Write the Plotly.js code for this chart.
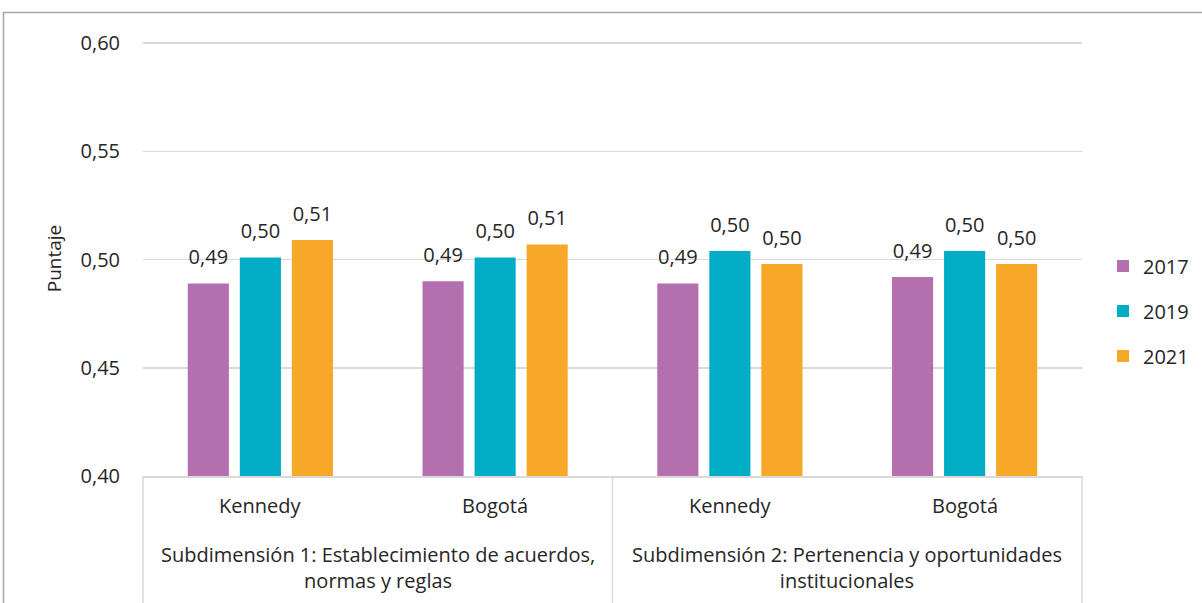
<!DOCTYPE html>
<html>
<head>
<meta charset="utf-8">
<script src="https://cdn.plot.ly/plotly-3.0.1.min.js"></script>
<style>html,body{margin:0;padding:0;background:#fff;}#chart{width:1202px;height:603px;}</style>
</head>
<body>
<div id="chart"></div>
<script>
var groups = [
  "Subdimensión 1: Establecimiento de acuerdos,<br>normas y reglas",
  "Subdimensión 1: Establecimiento de acuerdos,<br>normas y reglas",
  "Subdimensión 2: Pertenencia y oportunidades<br>institucionales",
  "Subdimensión 2: Pertenencia y oportunidades<br>institucionales"
];
var places = ["Kennedy", "Bogotá", "Kennedy", "Bogotá"];
var years = ["2017", "2019", "2021"];
var v2017 = [0.489, 0.490, 0.489, 0.492];
var v2019 = [0.501, 0.501, 0.504, 0.504];
var v2021 = [0.509, 0.507, 0.498, 0.498];
var colors = ["#B46FAF", "#00ADC4", "#F7A828"];
var yTicks = [0.40, 0.45, 0.50, 0.55, 0.60];

var series = [v2017, v2019, v2021];
var FONT = "'Open Sans', 'Noto Sans', sans-serif";
var TXT = "#262626";
var GRID = "#d9d9d9";
var traces = [];
series.forEach(function (vals, i) {
  traces.push({
    type: "bar",
    name: years[i],
    x: [groups, places],
    y: vals,
    offsetgroup: String(i),
    legendgroup: years[i],
    marker: { color: colors[i] },
    hoverinfo: "skip"
  });
});
series.forEach(function (vals, i) {
  traces.push({
    type: "scatter",
    mode: "text+markers",
    x: [groups, places],
    y: vals,
    offsetgroup: String(i),
    showlegend: false,
    marker: { size: 21, color: "rgba(0,0,0,0)" },
    text: vals.map(function (v) { return v.toFixed(2).replace(".", ","); }),
    textposition: "top center",
    textfont: { family: FONT, size: 20, color: TXT },
    cliponaxis: false,
    hoverinfo: "skip"
  });
});

// category labels and dividers (paper coordinates derived from category index)
var n = places.length;
var annotations = [];
var shapes = [];
var PLOT_H = 435;
function py(pix) { return -pix / PLOT_H; } // pixels below the x-axis line
places.forEach(function (p, i) {
  annotations.push({
    xref: "paper", yref: "paper", x: (i + 0.5) / n, y: py(30),
    text: p, showarrow: false, xanchor: "center", yanchor: "middle",
    font: { family: FONT, size: 20, color: TXT }
  });
});
var seen = [];
groups.forEach(function (g, i) {
  if (seen.indexOf(g) !== -1) return;
  seen.push(g);
  var first = groups.indexOf(g), last = groups.lastIndexOf(g);
  annotations.push({
    xref: "paper", yref: "paper", x: (first + last + 1) / 2 / n, y: py(91),
    text: g, showarrow: false, xanchor: "center", yanchor: "middle",
    font: { family: FONT, size: 20, color: TXT }
  });
  shapes.push({
    type: "line", xref: "paper", yref: "paper",
    x0: first / n, x1: first / n, y0: 0, y1: py(140),
    line: { color: GRID, width: 1.5 }
  });
  if (last === n - 1) {
    shapes.push({
      type: "line", xref: "paper", yref: "paper",
      x0: 1, x1: 1, y0: 0, y1: py(140),
      line: { color: GRID, width: 1.5 }
    });
  }
});
shapes.push({
  type: "rect", xref: "paper", yref: "paper",
  x0: (3.5 - 143) / 939, x1: (1215 - 143) / 939,
  y0: py(150), y1: (476 - 12.5) / PLOT_H,
  line: { color: "#a6a6a6", width: 1.5 },
  fillcolor: "rgba(0,0,0,0)", layer: "below"
});

var layout = {
  width: 1202,
  height: 603,
  margin: { l: 143, r: 120, t: 41, b: 127 },
  paper_bgcolor: "#ffffff",
  plot_bgcolor: "#ffffff",
  separators: ",.",
  font: { family: FONT, size: 20, color: TXT },
  barmode: "group",
  scattermode: "group",
  bargap: 0.335,
  bargroupgap: 0.21,
  scattergap: 0.335,
  showlegend: true,
  legend: {
    xref: "container", yref: "container",
    x: 1103 / 1202, xanchor: "left",
    y: 1 - 311 / 603, yanchor: "middle",
    font: { family: FONT, size: 20, color: TXT },
    tracegroupgap: 16,
    bgcolor: "rgba(0,0,0,0)"
  },
  xaxis: {
    type: "multicategory",
    showgrid: false,
    showline: true,
    linecolor: GRID,
    linewidth: 1.5,
    ticks: "",
    showticklabels: false,
    showdividers: false
  },
  yaxis: {
    range: [0.40, 0.601],
    tickvals: yTicks,
    tickformat: ".2f",
    showgrid: true,
    gridcolor: GRID,
    gridwidth: 1.5,
    zeroline: false,
    showline: false,
    ticks: "",
    ticklabelstandoff: 22,
    tickfont: { family: FONT, size: 20, color: TXT },
    title: { text: "Puntaje", font: { family: FONT, size: 19, color: TXT }, standoff: 13 }
  },
  annotations: annotations,
  shapes: shapes
};

Plotly.newPlot("chart", traces, layout, { displayModeBar: false, staticPlot: true });
</script>
</body>
</html>
